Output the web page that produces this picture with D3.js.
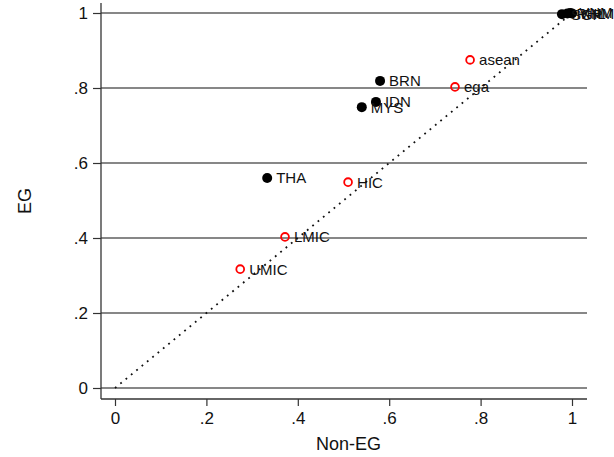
<!DOCTYPE html>
<html>
<head>
<meta charset="utf-8">
<script src="https://cdn.jsdelivr.net/npm/d3@7"></script>
<style>
  html, body { margin: 0; padding: 0; background: #fff; }
  svg { display: block; font-family: "Liberation Sans", Arial, Helvetica, sans-serif; }
</style>
</head>
<body>
<svg id="chart" width="614" height="457"></svg>
<script>
// Economies (filled black markers)
const countries = ["SGP", "PHL", "VNM", "KHM", "BRN", "IDN", "MYS", "THA"];
const countryNonEG = [0.978, 0.990, 0.996, 1.000, 0.580, 0.571, 0.540, 0.333];
const countryEG    = [0.997, 0.999, 1.000, 0.999, 0.819, 0.763, 0.749, 0.560];

// Country groups (hollow red markers)
const groups = ["asean", "ega", "HIC", "LMIC", "UMIC"];
const groupNonEG = [0.777, 0.744, 0.510, 0.372, 0.274];
const groupEG    = [0.875, 0.803, 0.549, 0.403, 0.317];

// Axis ticks
const tickValues = [0, 0.2, 0.4, 0.6, 0.8, 1];
const tickLabels = ["0", ".2", ".4", ".6", ".8", "1"];

const svg = d3.select("#chart");
const x = d3.scaleLinear().domain([0, 1]).range([115, 572]);
const y = d3.scaleLinear().domain([0, 1]).range([388, 13]);

const plotLeft = 101, plotRight = 587, plotBottom = 399, plotTop = 3;
const fmt = d => tickLabels[tickValues.indexOf(d)];

// Horizontal grid lines
svg.append("g").selectAll("line").data(tickValues).join("line")
  .attr("x1", plotLeft).attr("x2", plotRight)
  .attr("y1", d => y(d)).attr("y2", d => y(d))
  .attr("stroke", "#111").attr("stroke-width", 1.2);

// Y axis
const yAxis = svg.append("g").attr("transform", `translate(${plotLeft},0)`)
  .call(d3.axisLeft(y).tickValues(tickValues).tickFormat(fmt).tickSize(8).tickPadding(5));
yAxis.select(".domain").remove();
yAxis.append("line").attr("x1", 0).attr("x2", 0).attr("y1", plotTop).attr("y2", plotBottom)
  .attr("stroke", "#333").attr("stroke-width", 1.3);

// X axis
const xAxis = svg.append("g").attr("transform", `translate(0,${plotBottom})`)
  .call(d3.axisBottom(x).tickValues(tickValues).tickFormat(fmt).tickSize(7).tickPadding(6));
xAxis.select(".domain").remove();
xAxis.append("line").attr("x1", plotLeft).attr("x2", plotRight).attr("y1", 0).attr("y2", 0)
  .attr("stroke", "#333").attr("stroke-width", 1.3);

[yAxis, xAxis].forEach(a => {
  a.selectAll(".tick line").attr("stroke", "#333").attr("stroke-width", 1.2);
  a.selectAll(".tick text").attr("fill", "#111").style("font-size", "17px")
    .style("font-family", "'Liberation Sans', Arial, sans-serif");
});

// 45-degree reference line
svg.append("line")
  .attr("x1", x(0)).attr("y1", y(0)).attr("x2", x(1)).attr("y2", y(1))
  .attr("stroke", "#111").attr("stroke-width", 1.8)
  .attr("stroke-dasharray", "1.8,5.1");

// Axis titles
svg.append("text").attr("x", (x(0) + x(1)) / 2 + 5).attr("y", 450)
  .attr("text-anchor", "middle").style("font-size", "18px").attr("fill", "#111").text("Non-EG");
svg.append("text").attr("transform", "translate(31,201) rotate(-90)")
  .attr("text-anchor", "middle").style("font-size", "18px").attr("fill", "#111").text("EG");

// Group markers
const gIdx = d3.range(groups.length);
svg.append("g").selectAll("circle").data(gIdx).join("circle")
  .attr("cx", i => x(groupNonEG[i])).attr("cy", i => y(groupEG[i])).attr("r", 3.9)
  .attr("fill", "none").attr("stroke", "#ff0000").attr("stroke-width", 1.8);
svg.append("g").selectAll("text").data(gIdx).join("text")
  .attr("x", i => x(groupNonEG[i]) + 9).attr("y", i => y(groupEG[i])).attr("dy", "0.36em")
  .style("font-size", "15px").attr("fill", "#111").text(i => groups[i]);

// Country markers
const cIdx = d3.range(countries.length);
svg.append("g").selectAll("circle").data(cIdx).join("circle")
  .attr("cx", i => x(countryNonEG[i])).attr("cy", i => y(countryEG[i])).attr("r", 5)
  .attr("fill", "#000");
svg.append("g").selectAll("text").data(cIdx).join("text")
  .attr("x", i => x(countryNonEG[i]) + 9).attr("y", i => y(countryEG[i])).attr("dy", "0.36em")
  .style("font-size", "15px").attr("fill", "#111").text(i => countries[i]);
</script>
</body>
</html>
